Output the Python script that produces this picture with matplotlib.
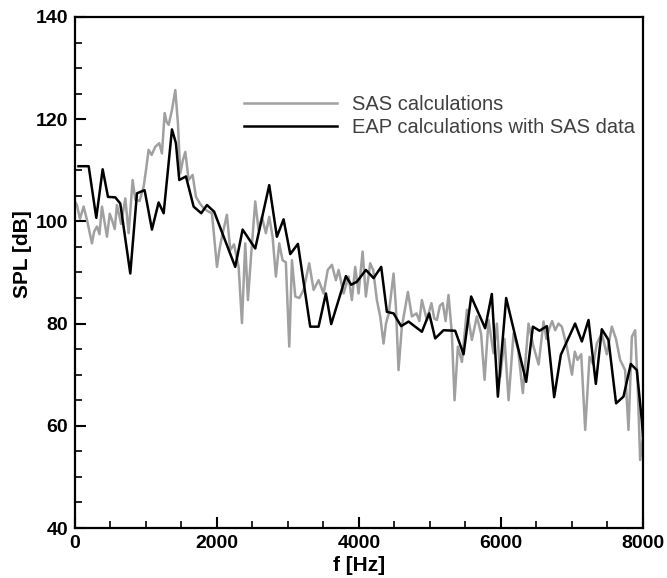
import matplotlib
matplotlib.use("Agg")
import matplotlib.pyplot as plt
from matplotlib.ticker import MultipleLocator

# SAS calculations (grey)
sas_f = [0, 28, 70, 122, 169, 239, 270, 310, 345, 380, 451, 490, 521, 560, 591, 650, 709, 756,
         812, 850, 910, 967, 1000, 1037, 1080, 1131, 1187, 1225, 1263, 1290, 1319, 1366, 1413,
         1450, 1483, 1520, 1554, 1601, 1657, 1704, 1760, 1812, 1870, 1929, 2000, 2035, 2070,
         2140, 2187, 2240, 2305, 2352, 2398, 2436, 2483, 2539, 2586, 2633, 2689, 2736, 2783,
         2830, 2877, 2924, 2970, 3018, 3056, 3103, 3160, 3220, 3299, 3361, 3431, 3502, 3560,
         3619, 3675, 3713, 3783, 3854, 3900, 3947, 3994, 4051, 4097, 4158, 4200, 4252, 4299,
         4346, 4380, 4420, 4487, 4520, 4557, 4604, 4650, 4689, 4745, 4810, 4850, 4886, 4956,
         5020, 5060, 5097, 5140, 5180, 5220, 5261, 5308, 5346, 5393, 5450, 5520, 5590, 5660,
         5720, 5769, 5825, 5895, 5942, 5989, 6050, 6107, 6177, 6240, 6308, 6388, 6458, 6530,
         6599, 6640, 6680, 6720, 6763, 6810, 6857, 6927, 7000, 7040, 7078, 7130, 7186, 7247,
         7300, 7350, 7420, 7490, 7561, 7620, 7678, 7748, 7796, 7843, 7889, 7925, 7960, 8000]
sas_spl = [103.9, 103.2, 100.5, 102.9, 100.3, 95.7, 98.0, 99.0, 97.5, 102.9, 97.0, 101.5, 100.3,
           98.5, 103.2, 99.5, 104.5, 97.7, 108.1, 104.2, 104.0, 106.8, 110.0, 114.0, 113.0,
           114.6, 115.3, 113.3, 121.2, 119.5, 118.9, 121.8, 125.7, 119.2, 109.4, 112.0, 113.6,
           108.1, 109.1, 104.8, 103.5, 102.6, 102.0, 101.6, 91.1, 94.5, 97.0, 101.3, 94.4, 95.5,
           91.1, 80.1, 95.7, 84.6, 93.8, 103.9, 98.3, 100.9, 97.7, 100.9, 97.0, 89.2, 95.7, 92.4,
           92.0, 75.5, 92.4, 85.3, 85.0, 86.6, 91.8, 86.6, 88.5, 85.9, 90.5, 91.5, 88.5, 90.5,
           85.9, 89.2, 84.6, 91.1, 85.9, 94.1, 85.3, 91.8, 90.5, 84.6, 81.4, 76.1, 80.0, 82.0,
           89.8, 83.3, 70.9, 79.4, 83.0, 86.2, 81.4, 82.0, 80.5, 84.6, 80.7, 84.0, 81.0, 80.7,
           83.5, 84.0, 80.5, 85.6, 78.1, 65.0, 75.5, 72.5, 82.7, 76.8, 81.4, 78.0, 69.0, 80.7,
           74.2, 80.0, 69.6, 77.0, 65.0, 78.1, 75.0, 66.4, 80.0, 75.5, 72.0, 80.4, 77.0, 79.0,
           80.5, 78.7, 80.0, 79.4, 75.5, 70.0, 74.5, 72.9, 74.0, 59.2, 73.5, 72.0, 76.1, 78.1,
           74.0, 79.4, 77.0, 72.9, 70.9, 59.2, 77.4, 78.7, 68.0, 53.3, 58.0]

# EAP calculations with SAS data (black)
eap_f = [50, 193, 300, 390, 465, 568, 638, 779, 873, 981, 1084, 1178, 1249, 1366, 1422,
         1469, 1563, 1671, 1778, 1859, 1960, 2257, 2361, 2539, 2736, 2844, 2938, 3032, 3140,
         3313, 3431, 3534, 3609, 3816, 3890, 3971, 4097, 4206, 4313, 4393, 4487, 4594, 4698,
         4886, 4989, 5073, 5191, 5355, 5473, 5580, 5777, 5871, 5956, 6073, 6355, 6449, 6543,
         6646, 6749, 6843, 7044, 7139, 7233, 7336, 7420, 7514, 7621, 7725, 7828, 7913, 7983,
         8000]
eap_spl = [110.8, 110.8, 100.7, 110.2, 104.8, 104.7, 103.5, 89.8, 105.5, 106.1, 98.4, 103.7,
           101.6, 118.0, 115.3, 108.1, 108.8, 102.9, 101.6, 103.2, 101.9, 91.1, 98.4, 94.7,
           107.1, 97.0, 100.4, 93.6, 95.6, 79.4, 79.4, 85.9, 79.9, 89.3, 87.6, 88.2, 90.5, 88.9,
           91.1, 82.3, 82.0, 79.5, 80.4, 78.4, 82.0, 77.1, 78.7, 78.6, 74.0, 85.3, 79.1, 85.8,
           65.7, 85.0, 68.6, 79.4, 78.6, 79.5, 65.6, 73.9, 80.0, 76.5, 80.7, 68.2, 78.9, 76.8,
           64.4, 65.7, 72.1, 70.9, 61.1, 58.0]

x_ticks = [0, 2000, 4000, 6000, 8000]
y_ticks = [40, 60, 80, 100, 120, 140]

plt.rcParams['font.family'] = ['Liberation Sans', 'DejaVu Sans']

fig = plt.figure(figsize=(6.67, 5.78), dpi=100)
ax = fig.add_axes([0.1124, 0.0865, 0.8516, 0.8841])

ax.plot(sas_f, sas_spl, color='#a0a0a0', lw=1.8, label='SAS calculations')
ax.plot(eap_f, eap_spl, color='black', lw=1.8, label='EAP calculations with SAS data')

ax.set_xlim(0, 8000)
ax.set_ylim(40, 140)
ax.set_xticks(x_ticks)
ax.set_yticks(y_ticks)
ax.xaxis.set_minor_locator(MultipleLocator(500))
ax.yaxis.set_minor_locator(MultipleLocator(5))
ax.tick_params(which='major', direction='in', length=8, width=1.5, labelsize=14, pad=5)
ax.tick_params(which='minor', direction='in', length=5, width=1.2)
for lab in ax.get_xticklabels() + ax.get_yticklabels():
    lab.set_fontweight('bold')
for s in ax.spines.values():
    s.set_linewidth(1.6)

ax.set_xlabel('f [Hz]', fontsize=15, fontweight='bold')
ax.xaxis.set_label_coords(0.5, -0.055)
ax.xaxis.label.set_va('top')
ax.set_ylabel('SPL [dB]', fontsize=15, fontweight='bold')
ax.yaxis.set_label_coords(-0.076, 0.535)

leg = ax.legend(loc='upper right', bbox_to_anchor=(1.0, 0.863), frameon=False,
                fontsize=14.5, handlelength=4.6, handletextpad=0.75, labelspacing=0.2,
                borderaxespad=0.0)
for t in leg.get_texts():
    t.set_color('#404040')

fig.savefig('out.png', dpi=100)
